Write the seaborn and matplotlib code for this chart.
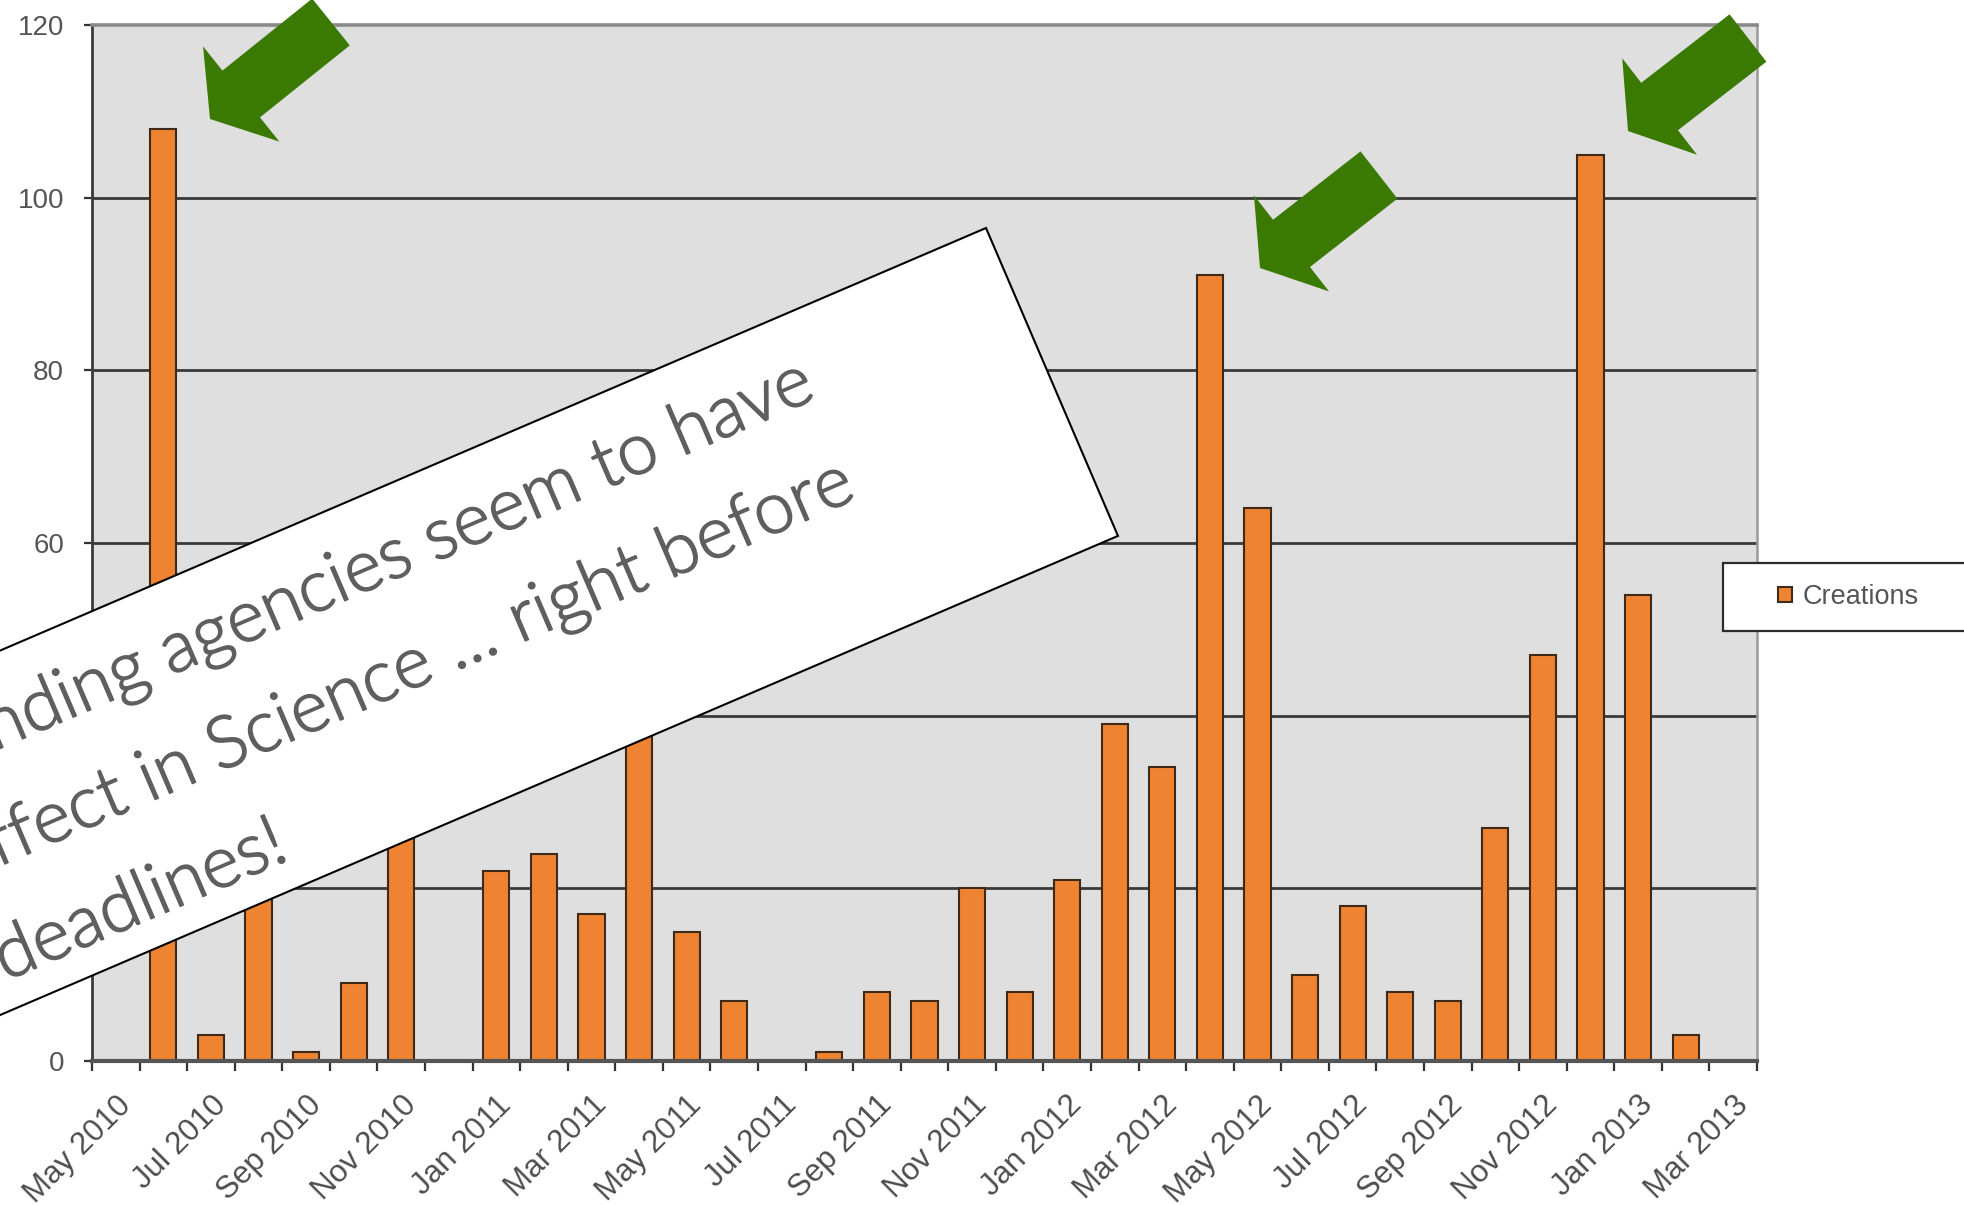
import numpy as np
import pandas as pd
import matplotlib
matplotlib.use("Agg")
import matplotlib.pyplot as plt
import matplotlib.transforms as mtransforms
import matplotlib.patheffects as pe
from matplotlib.patches import Polygon, FancyArrow, Rectangle
from matplotlib.ticker import FixedLocator
import seaborn as sns

# ---- data -------------------------------------------------------------
months = [
    "May 2010", "Jun 2010", "Jul 2010", "Aug 2010", "Sep 2010", "Oct 2010",
    "Nov 2010", "Dec 2010", "Jan 2011", "Feb 2011", "Mar 2011", "Apr 2011",
    "May 2011", "Jun 2011", "Jul 2011", "Aug 2011", "Sep 2011", "Oct 2011",
    "Nov 2011", "Dec 2011", "Jan 2012", "Feb 2012", "Mar 2012", "Apr 2012",
    "May 2012", "Jun 2012", "Jul 2012", "Aug 2012", "Sep 2012", "Oct 2012",
    "Nov 2012", "Dec 2012", "Jan 2013", "Feb 2013", "Mar 2013",
]
creations = [
    0, 108, 3, 28, 1, 9,
    33, 0, 22, 24, 17, 44,
    15, 7, 0, 1, 8, 7,
    20, 8, 21, 39, 34, 91,
    64, 10, 18, 8, 7, 27,
    47, 105, 54, 3, 0,
]
y_ticks = [0, 20, 40, 60, 80, 100, 120]
series_name = "Creations"
note_lines = [
    "Funding agencies seem to have",
    "effect in Science ... right before",
    "deadlines!",
]

# ---- style ------------------------------------------------------------
sns.set_theme(style="ticks")
plt.rcParams["font.family"] = ["Liberation Sans", "DejaVu Sans"]

W, H = 1965, 1205
fig = plt.figure(figsize=(W / 100, H / 100), dpi=100)
# pixel coordinates measured from the top-left corner of the canvas
px = mtransforms.Affine2D().scale(1 / W, -1 / H).translate(0, 1) + fig.transFigure

ax = fig.add_axes([92 / W, 1 - 1061 / H, (1757 - 92) / W, (1061 - 25) / H])
ax.set_facecolor("#dfdfdf")

df = pd.DataFrame({"month": months, "creations": creations})
sns.barplot(
    data=df, x="month", y="creations", ax=ax, color="#ee8331",
    saturation=1, width=0.55, edgecolor="#3d2a18", linewidth=1.5,
    errorbar=None, zorder=2,
)

ax.set_xlim(-0.5, len(months) - 0.5)
ax.set_ylim(y_ticks[0], y_ticks[-1])
ax.set_xlabel("")
ax.set_ylabel("")

# horizontal grid
for yv in y_ticks[1:-1]:
    ax.axhline(yv, color="#3a3a3a", lw=2.0, zorder=1)

# y axis
ax.set_yticks(y_ticks)
ax.set_yticklabels([str(v) for v in y_ticks])
ax.tick_params(axis="y", length=6, width=1.6, color="#333333", direction="out",
               labelsize=20, labelcolor="#555555", pad=14, left=True)

# x axis: labels every other month, ticks at category boundaries
ax.set_xticks(range(0, len(months), 2))
ax.set_xticklabels(months[::2], rotation=45, ha="right", va="top",
                   rotation_mode="anchor", fontsize=22.5, color="#4d4d4d")
ax.xaxis.set_minor_locator(FixedLocator(np.arange(-0.5, len(months), 1.0)))
ax.tick_params(axis="x", which="major", length=0, pad=21, bottom=True)
ax.tick_params(axis="x", which="minor", length=7, width=1.6, color="#333333",
               direction="out", bottom=True)

for side, col, lw in [("left", "#3a3a3a", 2.0), ("bottom", "#555555", 3.0),
                      ("top", "#8a8a8a", 2.6), ("right", "#9a9a9a", 1.8)]:
    ax.spines[side].set_visible(True)
    ax.spines[side].set_color(col)
    ax.spines[side].set_linewidth(lw)
ax.spines["bottom"].set_zorder(3)

# legend
leg = ax.legend(
    [ax.patches[1]], [series_name], loc="center left",
    bbox_to_anchor=(1778, 597), bbox_transform=px, frameon=False,
    borderpad=0, borderaxespad=0, handlelength=0.5, handleheight=0.5,
    handletextpad=0.4, fontsize=19.5, labelcolor="#555555",
)
leg.set_zorder(6)
ax.add_patch(Rectangle((1723, 563), 320, 68, transform=px, facecolor="white",
                       edgecolor="#2b2b2b", lw=1.6, clip_on=False, zorder=5))

# rotated note box
theta = np.deg2rad(23.2)
u = np.array([np.cos(theta), -np.sin(theta)])
v = np.array([np.sin(theta), np.cos(theta)])
top_right = np.array([986.0, 228.0])
depth, length = 335.0, 1500.0
corners = [top_right, top_right + depth * v,
           top_right + depth * v - length * u, top_right - length * u]
fig.add_artist(Polygon(corners, closed=True, transform=px, facecolor="white",
                       edgecolor="black", lw=1.5, zorder=5))
note_color = "#5f5f5f"
for k, line in enumerate(note_lines):
    p = top_right - 1198 * u + (90 + 108 * k) * v
    fig.text(p[0], p[1], line, transform=px, rotation=23.2,
             rotation_mode="anchor", ha="left", va="baseline", fontsize=52,
             color=note_color, family=["Lato", "DejaVu Sans"],
             fontweight=300, zorder=6,
             path_effects=[pe.withStroke(linewidth=1.1, foreground=note_color)])

# green arrows
arrow_tails = [(331, 22), (1379, 175), (1748, 38)]
arrow_tips = [(210, 119), (1260, 268), (1628, 131)]
for (x0, y0), (x1, y1) in zip(arrow_tails, arrow_tips):
    fig.add_artist(FancyArrow(x0, y0, x1 - x0, y1 - y0, width=60,
                              head_width=122, head_length=40,
                              length_includes_head=True, transform=px,
                              color="#3a7a02", lw=0, zorder=7))

fig.savefig("out.png", dpi=100)
